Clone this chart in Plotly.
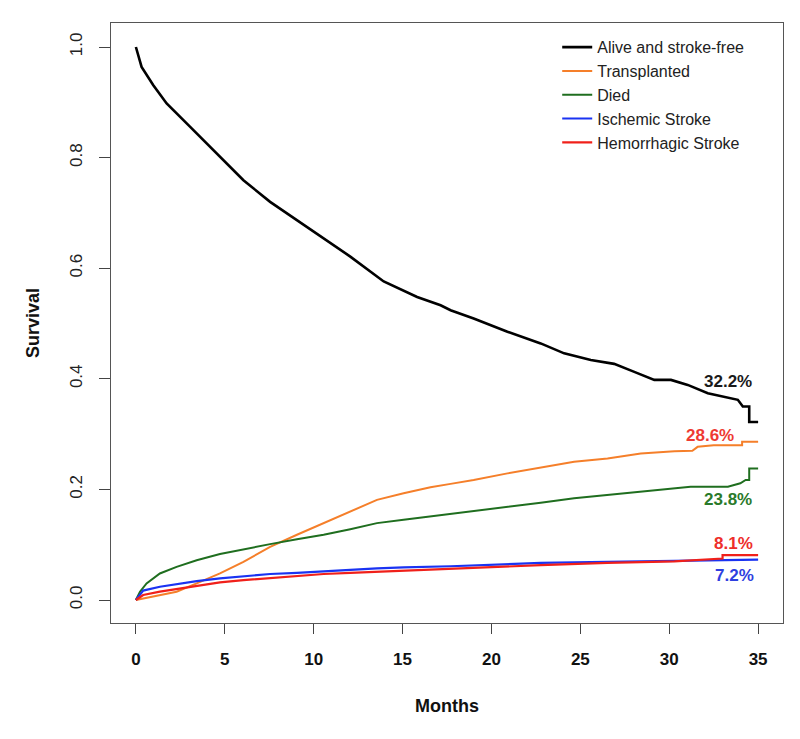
import plotly.graph_objects as go

# ---- data ----
series_names = ["Alive and stroke-free", "Transplanted", "Died", "Ischemic Stroke", "Hemorrhagic Stroke"]

months_alive = [0, 0.32, 0.98, 1.73, 3.04, 4.55, 6.05, 7.55, 9.06, 10.56, 12.06, 13.94, 15.82, 17.14, 17.7,
                19.0, 20.9, 22.77, 24.09, 25.59, 26.9, 28.0, 29.16, 30.1, 31.04, 32.17, 33.1, 33.86, 34.14,
                34.5, 34.5, 35]
alive = [1.0, 0.964, 0.931, 0.898, 0.856, 0.808, 0.759, 0.720, 0.687, 0.654, 0.621, 0.576, 0.548, 0.533, 0.524,
         0.509, 0.485, 0.464, 0.446, 0.434, 0.427, 0.413, 0.398, 0.398, 0.389, 0.374, 0.368, 0.362, 0.350,
         0.350, 0.322, 0.322]

months_tx = [0, 1.0, 2.29, 3.42, 4.73, 6.05, 7.55, 9.06, 10.56, 12.06, 13.56, 15.06, 16.57, 17.7, 19.0,
             20.9, 22.77, 24.65, 26.53, 28.4, 30.29, 31.3, 31.6, 32.5, 34.1, 34.1, 35]
transplanted = [0, 0.006, 0.015, 0.030, 0.048, 0.069, 0.096, 0.118, 0.139, 0.160, 0.181, 0.193, 0.204, 0.210, 0.217,
                0.229, 0.240, 0.250, 0.256, 0.265, 0.269, 0.270, 0.277, 0.280, 0.280, 0.286, 0.286]

months_died = [0, 0.23, 0.6, 1.35, 2.29, 3.42, 4.73, 6.05, 7.55, 9.06, 10.56, 12.06, 13.56, 15.06, 16.57,
               17.7, 19.0, 20.9, 22.77, 24.65, 26.53, 28.4, 30.29, 31.2, 33.3, 34.0, 34.3, 34.5, 34.5, 35]
died = [0, 0.015, 0.030, 0.048, 0.060, 0.072, 0.083, 0.092, 0.101, 0.110, 0.118, 0.128, 0.139, 0.145, 0.151,
        0.155, 0.160, 0.168, 0.176, 0.184, 0.190, 0.197, 0.202, 0.205, 0.205, 0.211, 0.217, 0.217, 0.238, 0.238]

months_isch = [0, 0.41, 1.35, 2.29, 3.42, 4.73, 6.05, 7.55, 9.06, 10.56, 12.06, 13.56, 15.06, 17.7, 22.77,
               26.53, 30.29, 32.5, 35]
ischemic = [0, 0.017, 0.024, 0.029, 0.034, 0.039, 0.043, 0.047, 0.049, 0.052, 0.054, 0.057, 0.059, 0.061, 0.067,
            0.069, 0.071, 0.073, 0.073]

months_hem = [0, 0.41, 1.35, 2.29, 3.42, 4.73, 6.05, 7.55, 9.06, 10.56, 12.06, 13.56, 15.06, 17.7, 22.77,
              26.53, 30.29, 33.0, 33.0, 35]
hemorrhagic = [0, 0.009, 0.015, 0.020, 0.026, 0.032, 0.036, 0.040, 0.043, 0.047, 0.049, 0.051, 0.054, 0.057, 0.063,
               0.067, 0.070, 0.075, 0.081, 0.081]

end_label_text = ["32.2%", "28.6%", "23.8%", "8.1%", "7.2%"]
end_label_month = [33.3, 32.3, 33.3, 33.6, 33.65]
end_label_value = [0.396, 0.297, 0.181, 0.103, 0.045]

x_ticks = [0, 5, 10, 15, 20, 25, 30, 35]
y_ticks = [0.0, 0.2, 0.4, 0.6, 0.8, 1.0]

# ---- styles ----
line_colors = ["#000000", "#F57F2A", "#1F6E1F", "#1A33F2", "#F0201A"]
line_widths = [2.6, 2, 2, 2.2, 2.2]
label_colors = ["#1A1A1A", "#EE3A32", "#2A7A2A", "#EE2E2A", "#2E3FE0"]
FONT = "Liberation Sans, Arial, sans-serif"

xs = [months_alive, months_tx, months_died, months_isch, months_hem]
ys = [alive, transplanted, died, ischemic, hemorrhagic]

fig = go.Figure()
for name, x, y, c, w in zip(series_names, xs, ys, line_colors, line_widths):
    fig.add_trace(go.Scatter(x=x, y=y, mode="lines", name=name,
                             line=dict(color=c, width=w)))

for txt, mx, vy, c in zip(end_label_text, end_label_month, end_label_value, label_colors):
    fig.add_annotation(x=mx, y=vy, text="<b>%s</b>" % txt, showarrow=False,
                       font=dict(family=FONT, size=17, color=c),
                       xanchor="center", yanchor="middle")

fig.update_layout(
    width=800, height=739,
    margin=dict(l=103, r=25, t=15, b=124),
    paper_bgcolor="white", plot_bgcolor="white",
    font=dict(family=FONT, color="#111"),
    showlegend=True,
    legend=dict(x=0.664, y=0.988, xanchor="left", yanchor="top",
                bgcolor="rgba(255,255,255,0)", borderwidth=0,
                font=dict(family=FONT, size=16, color="#222"),
                tracegroupgap=0, itemwidth=30),
    xaxis=dict(range=[-1.4, 36.4], tickvals=x_ticks, ticktext=[str(v) for v in x_ticks],
               automargin=False,
               showgrid=False, zeroline=False, showline=True, mirror=True,
               linecolor="#555", linewidth=1.2,
               ticks="outside", ticklen=10, tickwidth=1.2, tickcolor="#444",
               ticklabelstandoff=10,
               tickfont=dict(family=FONT, size=17, color="#111", weight="bold"),
               title=dict(text="<b>Months</b>", font=dict(family=FONT, size=18, color="#111"),
                          standoff=31)),
    yaxis=dict(range=[-0.0416, 1.0434], tickvals=y_ticks, ticktext=["%.1f" % v for v in y_ticks],
               automargin=False,
               showgrid=False, zeroline=False, showline=True, mirror=True,
               linecolor="#555", linewidth=1.2,
               ticks="outside", ticklen=11, tickwidth=1.2, tickcolor="#444",
               tickangle=-90, ticklabelstandoff=10,
               tickfont=dict(family=FONT, size=17, color="#222"),
               title=dict(text="<b>Survival</b>", font=dict(family=FONT, size=18, color="#111"),
                          standoff=22)),
)

fig.write_html("out.html")
